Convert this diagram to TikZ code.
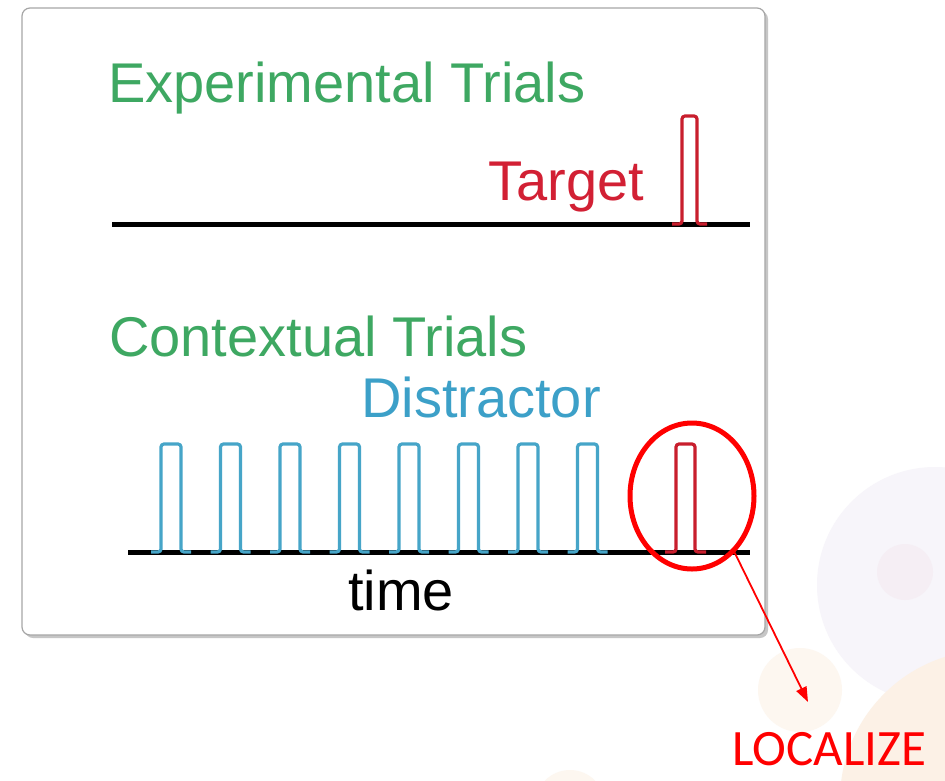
\documentclass[tikz,border=0pt]{standalone}
\usepackage{fontspec}
\setmainfont{Liberation Sans}
\newfontfamily\calib{Carlito}
\usetikzlibrary{shapes.geometric,arrows.meta}
\definecolor{ttgreen}{RGB}{62,168,98}
\definecolor{ttred}{RGB}{210,32,52}
\definecolor{ttblue}{RGB}{60,160,200}
\definecolor{pblue}{RGB}{70,165,200}
\definecolor{pred}{RGB}{200,30,45}
\definecolor{lav}{RGB}{247,245,250}
\definecolor{lavpink}{RGB}{245,238,244}
\definecolor{peach}{RGB}{253,247,240}
\definecolor{peachB}{RGB}{252,241,230}
\tikzset{
  lbl/.style={anchor=base west, inner sep=0pt, font=\fontsize{56}{62}\selectfont},
  axis/.style={line width=5pt, black},
  bpulse/.style={line width=3.2pt, pblue, rounded corners=3pt},
  rpulse/.style={line width=3.2pt, pred, rounded corners=3pt},
}
\begin{document}
\begin{tikzpicture}[x=1pt,y=-1pt]
\useasboundingbox (0,0) rectangle (945,780);
\fill[white] (0,0) rectangle (945,780);
% faint background decoration
\fill[lav] (935,585) circle (118);
\fill[lavpink] (905,572) circle (28);
\fill[peachB] (990,800) circle (150);
\fill[peach] (800,690) circle (42);
\fill[peach] (570,805) circle (35);
% box
\fill[gray!45, rounded corners=8pt] (25,11) rectangle (768,638);
\draw[gray!70, line width=1.2pt, fill=white, rounded corners=8pt] (22,8) rectangle (765,635);
% labels
\node[lbl, text=ttgreen] (exp) at (108,102) {Experimental Trials};
\node[lbl, text=ttred] (tgt) at (488,200) {Target};
\node[lbl, text=ttgreen] (ctx) at (109,356) {Contextual Trials};
\node[lbl, text=ttblue] (dis) at (361,417) {Distractor};
\node[lbl, text=black] (tim) at (348,610) {time};
% top trace
\coordinate (a0) at (112,224);
\coordinate (a1) at (750,224);
\draw[axis] (a0) -- (a1);
\draw[rpulse] (672,224) -- (682,224) -- (682,116) -- (697,116) -- (697,224) -- (707,224);
% bottom trace
\coordinate (b0) at (128,552);
\coordinate (b1) at (750,552);
\draw[axis] (b0) -- (b1);
\foreach \i in {0,...,7}{
  \pgfmathsetmacro{\xl}{161+59.5*\i}
  \pgfmathsetmacro{\xr}{\xl+20}
  \draw[bpulse] (\xl-10,552) -- (\xl,552) -- (\xl,444) -- (\xr,444) -- (\xr,552) -- (\xr+10,552);
}
\draw[rpulse] (665,552) -- (676,552) -- (676,444) -- (695,444) -- (695,552) -- (706,552);
% red ellipse and arrow
\node[ellipse, draw=red, line width=5pt, minimum width=124pt, minimum height=146pt, inner sep=0pt] (ell) at (692,496) {};
\coordinate (tip) at (808,702);
\draw[red, line width=1.8pt, -{Triangle[length=15pt,width=11pt]}] (ell.-53) -- (tip);
\node[anchor=base west, inner sep=0pt, text depth=0pt, text=red, font=\calib\fontsize{51}{56}\selectfont] (loc) at (732,765) {LOCALIZE};
\end{tikzpicture}
\end{document}
